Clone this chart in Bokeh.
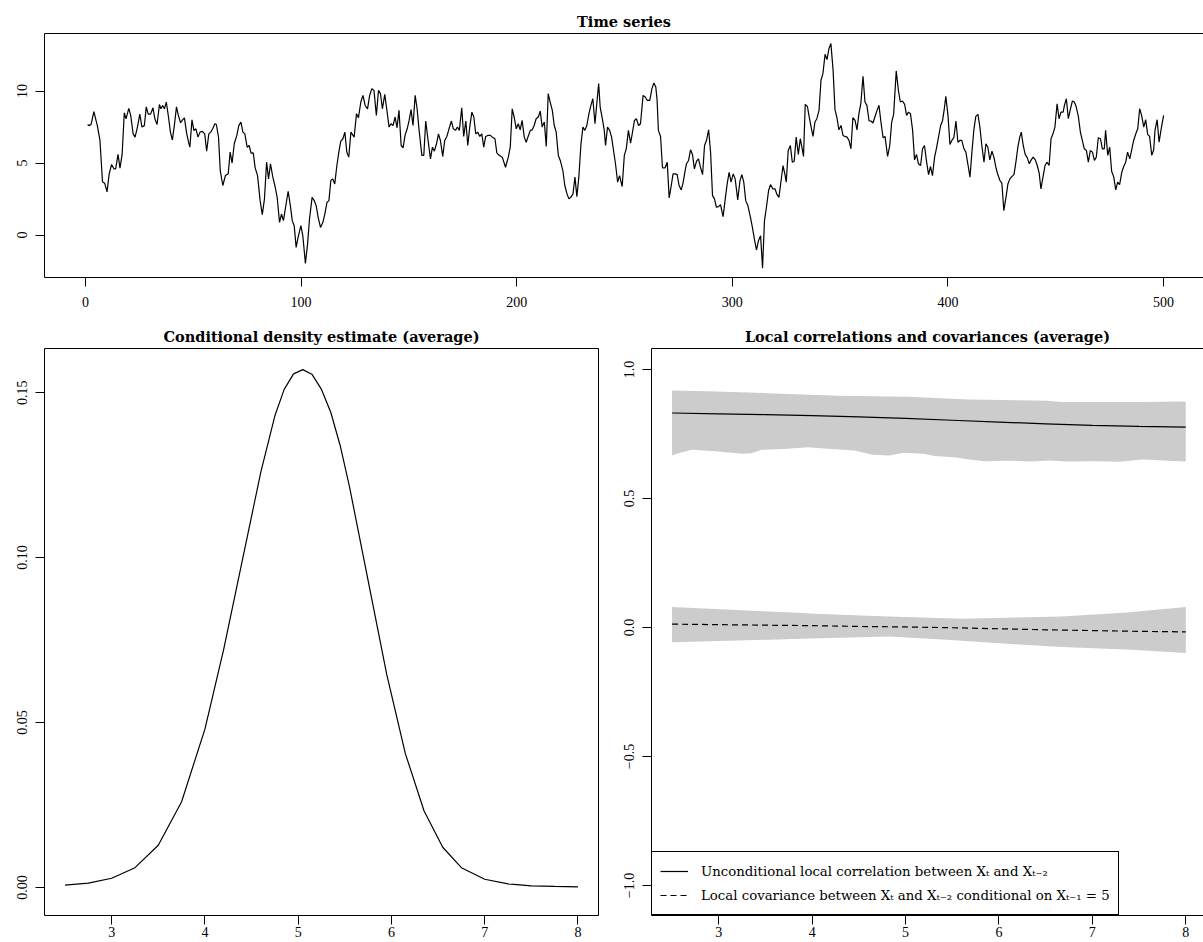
from bokeh.plotting import figure
from bokeh.models import Range1d, FixedTicker, Legend, LegendItem, LinearAxis
from bokeh.layouts import column, row
from bokeh.embed import file_html
from bokeh.resources import INLINE

# ---------------- data ----------------
ts_time = [1, 1.6, 2.6, 3.9, 5.5, 6.7, 7.9, 8.9, 10, 11, 12.1, 13.2, 14, 15.1, 16, 17, 18, 18.8, 20.1, 21, 22.1, 23, 24.1, 25.2, 26.2, 27.3, 28.2, 29.1, 30.2, 31.3, 32.2, 33.2, 34.3, 35, 35.8, 36.6, 37.5, 38.5, 39.4, 40.3, 41.3, 42.2, 43.1, 44.1, 45, 45.9, 46.9, 47.8, 48.4, 49.4, 50.3, 51.2, 52.2, 53.1, 54.2, 55.3, 56.2, 57.2, 58.1, 59, 60, 60.7, 61.7,
           62.5, 63.7, 64.9, 66.2, 67.1, 68, 69, 70.2, 71.1, 72.1, 73, 73.9, 75, 75.9, 76.8, 77.8, 78.7, 79.8, 81, 82, 83, 84, 84.9, 85.8, 86.9, 88, 88.9, 90, 90.9, 91.8, 92.8, 94, 94.9, 95.9, 96.8, 97.7, 98.6, 99.9, 100.8, 102, 103, 103.9, 105.1, 106.1, 107, 107.9, 109, 110.1, 111, 112, 112.9, 113.8, 114.7, 115.6, 116.6, 117.5, 118.4, 119.4, 120.3, 121.2, 122.1, 123.1,
           124.6, 125.7, 126.6, 127.7, 128.7, 129.7, 130.8, 131.8, 132.8, 133.8, 134.9, 135.9, 136.8, 137.7, 138.8, 139.7, 140.8, 141.7, 142.7, 143.6, 144.5, 145.4, 146.4, 147.3, 148.2, 149.2, 150.1, 151, 151.9, 152.9, 153.8, 154.7, 156, 156.9, 157.8, 158.9, 160, 160.9, 161.8, 162.8, 163.7, 164.6, 165.7, 166.6, 167.6, 168.6, 169.7, 170.6, 171.6, 172.5, 173.4, 174.5, 175.4, 176.4, 177.3, 178.2, 179.2, 180.1, 181, 181.9, 182.9, 183.8, 184.7, 185.6, 186.6, 187.8,
           188.7, 189.9, 190.8, 192, 193.3, 194.8, 196.1, 197, 197.9, 198.8, 199.8, 200.7, 201.6, 202.5, 203.5, 204.4, 205.3, 206.3, 207.2, 208.1, 209, 210, 210.9, 211.8, 212.8, 213.7, 214.6, 215.5, 216.5, 217.4, 218.3, 219.3, 220.2, 221.4, 222.3, 223.3, 224.2, 225.1, 226.1, 227, 227.9, 228.8, 229.8, 230.7, 231.6, 232.5, 233.5, 234.4, 235.3, 236.3, 237.2, 238, 238.7, 239.7, 240.6, 241.2, 242.1, 243.1, 244, 244.9, 245.8, 246.8, 247.7, 248.9, 249.9, 250.8,
           251.8, 252.8, 253.7, 254.6, 255.5, 256.5, 257.4, 258.6, 259.6, 260.5, 261.7, 262.7, 263.6, 264.5, 265.1, 265.7, 266.7, 267.6, 268.8, 269.8, 270.7, 271.6, 272.5, 273.5, 274.4, 275.3, 276.3, 277.2, 278.1, 278.7, 279.7, 280.6, 281.5, 282.4, 283.4, 284.3, 285.2, 286.2, 287.1, 288, 289, 289.9, 290.8, 291.7, 292.6, 293.6, 294.5, 295.7, 296.7, 297.6, 298.5, 299.4, 300.4, 301.3, 302.5, 303.5, 304.4, 305.3, 306.2, 307.2, 308.4, 309.3, 310.3, 311.2, 312.1, 313.1, 314, 314.9, 315.8, 316.8, 317.7,
           318.8, 319.8, 320.7, 321.6, 322.5, 323.5, 324.4, 325, 325.9, 326.9, 327.8, 328.7, 329.6, 330.6, 331.5, 332.4, 333, 333.8, 334.8, 335.7, 336.6, 337.4, 338.3, 339.2, 340.2, 341.1, 342, 343, 343.9, 344.8, 345.7, 346.7, 347.6, 348.5, 349.4, 350.4, 351.3, 352.2, 353.2, 354.1, 355, 355.9, 356.9, 357.8, 358.7, 359.6, 360.6, 361.5, 362.4, 363.4, 364.3, 365.2, 366.1, 367.1, 368, 368.9, 369.9, 370.8, 372, 373, 373.9, 374.8, 376, 377, 377.9,
           378.9, 379.9, 380.8, 381.7, 382.6, 383.6, 384.5, 385.4, 386.3, 387.3, 388.2, 389.1, 390.1, 391, 391.9, 392.8, 393.8, 394.7, 395.6, 396.6, 397.5, 398.3, 399, 400, 400.9, 401.8, 402.7, 403.7, 404.6, 405.5, 406.4, 407.4, 408.3, 409.2, 410.2, 411.1, 412, 412.9, 413.9, 414.8, 415.7, 416.7, 417.6, 418.5, 419.4, 420.4, 421.3, 422.2, 423.1, 424.1, 425, 425.9, 426.9, 427.8, 428.7, 429.6, 430.6, 431.5, 432.4, 433.3, 434, 434.9, 435.8, 436.8, 437.7, 438.6, 439.5, 440.5, 441.4,
           442.3, 443.1, 444.1, 445, 445.9, 446.9, 447.8, 448.7, 449.6, 450.6, 451.5, 452.4, 453.4, 454, 454.9, 455.8, 456.8, 457.7, 458.6, 459.5, 460.5, 461.4, 462.3, 463.2, 464.2, 465.1, 466, 467, 467.9, 468.8, 469.7, 470.7, 471.6, 472.5, 473.1, 474.1, 475, 475.9, 476.9, 477.8, 478.7, 479.6, 480.6, 481.5, 482.4, 483.3, 484.3, 485.2, 486.1, 487.1, 488, 488.9, 489.8, 490.8, 491.7, 492.6, 493.5, 494.5, 495.4, 496, 497, 497.9, 498.8, 500]
ts_value = [7.68, 7.6, 7.68, 8.58, 7.6, 6.6, 3.7, 3.6, 3.0, 4.25, 4.9, 4.6, 4.6, 5.6, 4.65, 5.6, 8.5, 8.07, 8.8, 8.3, 7.03, 6.8, 7.5, 8.4, 7.5, 7.6, 8.9, 8.4, 8.4, 8.84, 8.07, 7.68, 9.07, 8.77, 9.0, 8.77, 9.23, 8.2, 7.15, 6.6, 7.7, 8.9, 8.3, 7.8, 8.0, 8.14, 7.08, 6.45, 6.1, 8.0, 7.26, 7.38, 6.8, 7.15, 7.2, 7.03, 5.82, 7.03, 7.15, 7.38, 7.73, 7.68, 6.8,
            4.48, 3.44, 4.13, 4.25, 5.76, 5.0, 6.34, 6.92, 7.6, 7.85, 7.15, 7.03, 6.1, 6.22, 5.69, 5.71, 4.67, 4.13, 2.39, 1.42, 2.5, 5.06, 3.9, 4.95, 4.02, 3.32, 2.62, 0.88, 1.46, 1.0, 1.93, 3.04, 2.16, 1.0, 0.65, -0.86, -0.16, 0.65, -0.05, -1.97, -0.63, 1.11, 2.62, 2.39, 2.04, 1.23, 0.53, 0.88, 1.46, 2.27, 2.39, 3.79, 3.9, 3.55, 4.83, 5.76, 6.52, 6.69, 7.15, 5.76, 5.41, 7.15,
            6.8, 8.43, 8.15, 9.24, 9.7, 9.0, 8.77, 9.7, 10.17, 10.05, 8.31, 10.05, 9.82, 8.77, 9.77, 8.77, 7.5, 7.73, 7.61, 8.2, 7.45, 8.66, 6.22, 6.06, 6.92, 7.38, 7.96, 8.71, 7.61, 9.7, 8.77, 7.31, 5.53, 5.53, 7.92, 6.57, 5.29, 6.1, 5.83, 6.34, 7.03, 6.57, 5.46, 6.57, 6.85, 7.38, 7.92, 7.38, 7.27, 7.5, 7.27, 8.84, 6.85, 7.92, 6.22, 7.5, 8.54, 8.2, 7.03, 7.15, 6.85, 7.03, 6.1, 6.85, 6.92, 6.92,
            6.8, 6.69, 5.69, 5.53, 5.41, 4.71, 5.41, 6.1, 8.77, 8.2, 7.38, 7.73, 7.31, 7.96, 6.8, 6.45, 6.85, 7.27, 7.31, 7.61, 8.08, 8.2, 8.61, 7.5, 7.85, 6.15, 9.82, 9.24, 8.66, 7.61, 7.15, 5.53, 5.18, 4.48, 3.44, 2.86, 2.51, 2.62, 2.86, 4.02, 2.67, 4.02, 6.34, 7.5, 7.27, 7.61, 8.43, 9.01, 9.47, 7.73, 9.24, 10.52, 8.89, 8.08, 7.27, 6.22, 7.5, 7.27, 6.8, 5.87, 4.95, 3.67, 4.13, 3.37, 5.53, 5.99,
            7.27, 6.38, 7.15, 7.96, 8.08, 7.61, 7.73, 9.7, 9.59, 9.36, 9.36, 10.17, 10.56, 10.28, 9.36, 7.27, 6.85, 4.67, 4.67, 5.06, 2.58, 3.37, 4.25, 4.25, 4.2, 3.44, 3.13, 3.67, 4.48, 4.95, 5.18, 5.92, 5.6, 4.6, 5.13, 5.29, 4.71, 4.2, 6.22, 6.57, 7.31, 5.76, 2.74, 2.51, 1.93, 1.97, 2.11, 1.28, 2.51, 3.55, 4.36, 3.67, 4.25, 3.9, 2.44, 3.74, 4.2, 3.67, 2.39, 2.04, 1.23, 0.53, -0.35, -1.04, -0.39, -0.05, -2.3, 1.0, 1.93, 3.09, 3.5,
            3.2, 3.2, 2.81, 2.62, 3.67, 4.83, 4.2, 3.67, 5.87, 6.22, 5.06, 5.13, 6.8, 5.6, 6.69, 5.99, 5.46, 9.08, 8.94, 8.15, 7.45, 6.85, 7.85, 8.08, 8.66, 10.75, 11.21, 12.56, 12.19, 12.95, 13.3, 11.49, 8.71, 8.15, 7.31, 7.61, 6.92, 6.85, 6.8, 6.57, 5.99, 8.15, 7.96, 7.31, 8.43, 9.17, 11.03, 9.24, 9.01, 7.92, 7.92, 7.78, 8.2, 8.66, 9.01, 7.85, 6.76, 6.85, 5.46, 6.22, 7.85, 8.38, 11.4, 10.05, 9.24,
            9.31, 9.08, 8.31, 8.54, 8.43, 7.27, 5.22, 5.6, 4.95, 4.83, 5.99, 6.22, 5.06, 4.2, 4.76, 4.13, 5.41, 6.06, 6.8, 7.61, 7.96, 8.77, 9.63, 8.31, 6.29, 6.57, 6.76, 7.92, 6.45, 6.57, 6.57, 5.99, 5.76, 4.95, 4.02, 5.76, 7.31, 8.24, 8.38, 7.5, 6.22, 5.06, 6.34, 6.1, 5.22, 5.83, 5.41, 4.71, 4.2, 3.79, 3.6, 1.7, 2.62, 3.55, 3.9, 4.06, 4.2, 5.06, 6.1, 6.8, 7.15, 6.22, 5.6, 5.36, 4.95, 5.22, 5.41, 5.22, 4.83,
            4.3, 3.2, 4.06, 4.83, 5.06, 4.83, 6.69, 7.03, 7.5, 9.12, 8.08, 8.54, 8.54, 9.01, 9.47, 8.08, 8.77, 9.31, 9.24, 8.89, 8.2, 7.15, 6.57, 5.99, 5.87, 5.06, 5.87, 5.76, 5.18, 5.41, 6.76, 6.69, 5.99, 5.99, 7.27, 5.53, 6.1, 4.43, 4.02, 3.13, 3.67, 3.5, 4.36, 4.76, 5.06, 5.76, 5.29, 5.92, 6.57, 7.03, 7.38, 8.77, 8.31, 7.5, 8.01, 6.99, 6.85, 5.53, 5.92, 7.27, 8.01, 6.45, 7.31, 8.31]

dens_x = [2.5, 2.75, 3.0, 3.25, 3.5, 3.75, 4.0, 4.2, 4.4, 4.6, 4.75, 4.85, 4.95, 5.05, 5.15, 5.25, 5.35, 5.45, 5.55, 5.75, 5.95, 6.15, 6.35, 6.55, 6.75, 7.0, 7.25, 7.5, 7.75, 8.0]
dens_y = [0.0007, 0.0013, 0.0028, 0.0060, 0.0128, 0.0260, 0.0480, 0.0720, 0.0990, 0.1260, 0.1430, 0.1510, 0.1557, 0.1570, 0.1555, 0.1510, 0.1440, 0.1340, 0.1215, 0.0930, 0.0645, 0.0405, 0.0232, 0.0122, 0.0060, 0.0025, 0.0011, 0.0005, 0.0003, 0.0002]

grid_x = [2.5, 3.0, 3.5, 4.0, 4.5, 5.0, 5.5, 6.0, 6.5, 7.0, 7.5, 8.0]
corr_mid = [0.831, 0.828, 0.825, 0.821, 0.816, 0.810, 0.803, 0.796, 0.789, 0.783, 0.779, 0.776]
cov_mid = [0.013, 0.011, 0.009, 0.007, 0.004, 0.002, -0.001, -0.005, -0.009, -0.012, -0.015, -0.017]

corr_hi_x = [2.5, 2.88, 3.58, 4.28, 5.02, 5.68, 6.51, 6.67, 7.5, 8.0]
corr_hi_y = [0.918, 0.915, 0.907, 0.898, 0.894, 0.883, 0.879, 0.874, 0.874, 0.876]
corr_lo_x = [2.5, 2.55, 2.71, 2.96, 3.25, 3.35, 3.46, 3.70, 3.95, 4.20, 4.45, 4.65, 4.82, 4.98, 5.19, 5.31, 5.52, 5.68, 5.85, 6.10, 6.34, 6.55, 6.71, 7.04, 7.29, 7.54, 7.75, 8.0]
corr_lo_y = [0.666, 0.673, 0.689, 0.683, 0.673, 0.675, 0.689, 0.692, 0.698, 0.692, 0.686, 0.669, 0.666, 0.677, 0.673, 0.664, 0.660, 0.651, 0.644, 0.646, 0.643, 0.647, 0.643, 0.644, 0.642, 0.651, 0.647, 0.643]

cov_hi_x = [2.5, 3.79, 4.03, 4.82, 5.6, 6.67, 7.37, 8.0]
cov_hi_y = [0.079, 0.058, 0.053, 0.043, 0.034, 0.043, 0.058, 0.079]
cov_lo_x = [2.5, 3.79, 4.82, 5.44, 6.26, 6.67, 7.42, 8.0]
cov_lo_y = [-0.057, -0.045, -0.035, -0.048, -0.067, -0.076, -0.086, -0.099]

ts_xticks = [0, 100, 200, 300, 400, 500]
ts_yticks = [0, 5, 10]
x_ticks = [3, 4, 5, 6, 7, 8]
dens_yticks = [0.0, 0.05, 0.10, 0.15]
dens_labels = {0.0: "0.00", 0.05: "0.05", 0.10: "0.10", 0.15: "0.15"}
corr_yticks = [-1.0, -0.5, 0.0, 0.5, 1.0]
corr_labels = {-1.0: "\u22121.0", -0.5: "\u22120.5", 0.0: "0.0", 0.5: "0.5", 1.0: "1.0"}

SERIF = "Liberation Serif"
TFONT = "DejaVu Serif"


def style(p, title, xticks, yticks, ylabels=None, xstand=10, open_right=False):
    p.title.text = title
    p.title.align = "center"
    p.title.text_font = TFONT
    p.title.text_font_size = "14.5px"
    p.title.text_font_style = "bold"
    p.title.text_color = "black"
    p.title.standoff = 8
    p.xgrid.visible = False
    p.ygrid.visible = False
    p.background_fill_color = "white"
    p.border_fill_color = "white"
    for ax in (p.xaxis[0], p.yaxis[0]):
        ax.axis_line_color = "black" if open_right else None
        ax.axis_line_width = 1
        ax.major_tick_line_color = "black"
        ax.major_tick_line_width = 1
        ax.major_tick_out = 9
        ax.major_tick_in = 0
        ax.minor_tick_line_color = None
        ax.major_label_text_font = SERIF
        ax.major_label_text_font_size = "14px"
        ax.major_label_text_color = "black"
    p.xaxis[0].ticker = FixedTicker(ticks=xticks)
    p.yaxis[0].ticker = FixedTicker(ticks=yticks)
    p.xaxis[0].major_label_standoff = xstand
    p.yaxis[0].major_label_standoff = 8
    p.yaxis[0].major_label_orientation = "parallel"
    if ylabels:
        p.yaxis[0].major_label_overrides = ylabels
    if open_right:
        # the panel continues past the right edge of the picture: no right-hand border
        p.outline_line_color = None
        top = LinearAxis(ticker=FixedTicker(ticks=[]), axis_line_color="black", axis_line_width=1,
                         major_tick_line_color=None, minor_tick_line_color=None,
                         major_label_text_font_size="0px")
        p.add_layout(top, "above")
    else:
        p.outline_line_color = "black"
        p.outline_line_width = 1
        p.outline_line_alpha = 1.0


# ---------------- top: time series ----------------
p1 = figure(width=1203, height=314, output_backend="svg", toolbar_location=None,
            x_range=Range1d(-19.0, 518.5), y_range=Range1d(-2.95, 14.0),
            min_border_left=44, min_border_right=0, min_border_top=33, min_border_bottom=37)
style(p1, "Time series", ts_xticks, ts_yticks, open_right=True)
p1.line(ts_time, ts_value, line_color="black", line_width=1.2)

# ---------------- bottom left: density ----------------
p2 = figure(width=615, height=628, output_backend="svg", toolbar_location=None,
            x_range=Range1d(2.28, 8.22), y_range=Range1d(-0.0085, 0.1634),
            min_border_left=44, min_border_right=17, min_border_top=34, min_border_bottom=27)
style(p2, "Conditional density estimate (average)", x_ticks, dens_yticks, dens_labels, xstand=2)
p2.line(dens_x, dens_y, line_color="black", line_width=1.2)

# ---------------- bottom right: local correlations ----------------
p3 = figure(width=588, height=628, output_backend="svg", toolbar_location=None,
            x_range=Range1d(2.28, 8.19), y_range=Range1d(-1.116, 1.081),
            min_border_left=36, min_border_right=0, min_border_top=34, min_border_bottom=27)
style(p3, "Local correlations and covariances (average)", x_ticks, corr_yticks, corr_labels,
      xstand=2, open_right=True)
p3.patch(corr_hi_x + corr_lo_x[::-1], corr_hi_y + corr_lo_y[::-1],
         fill_color="#cccccc", line_color=None)
p3.patch(cov_hi_x + cov_lo_x[::-1], cov_hi_y + cov_lo_y[::-1],
         fill_color="#cccccc", line_color=None)
r1 = p3.line(grid_x, corr_mid, line_color="black", line_width=1.2)
r2 = p3.line(grid_x, cov_mid, line_color="black", line_width=1.2, line_dash="6 4")

leg = Legend(items=[
    LegendItem(label="Unconditional local correlation between X\u209c and X\u209c\u208b\u2082", renderers=[r1]),
    LegendItem(label="Local covariance between X\u209c and X\u209c\u208b\u2082 conditional on X\u209c\u208b\u2081 = 5", renderers=[r2]),
], location="bottom_left")
leg.margin = 0
leg.padding = 8
leg.spacing = 2
leg.glyph_width = 28
leg.glyph_height = 22
leg.label_height = 22
leg.label_standoff = 13
leg.label_text_font = "DejaVu Serif"
leg.label_text_font_size = "13.3px"
leg.label_text_color = "black"
leg.border_line_color = "black"
leg.border_line_width = 1
leg.border_line_alpha = 1.0
leg.background_fill_color = "white"
leg.background_fill_alpha = 1.0
p3.add_layout(leg)

layout = column(p1, row(p2, p3, spacing=0), spacing=0)
open("out.html", "w").write(file_html(layout, INLINE))
